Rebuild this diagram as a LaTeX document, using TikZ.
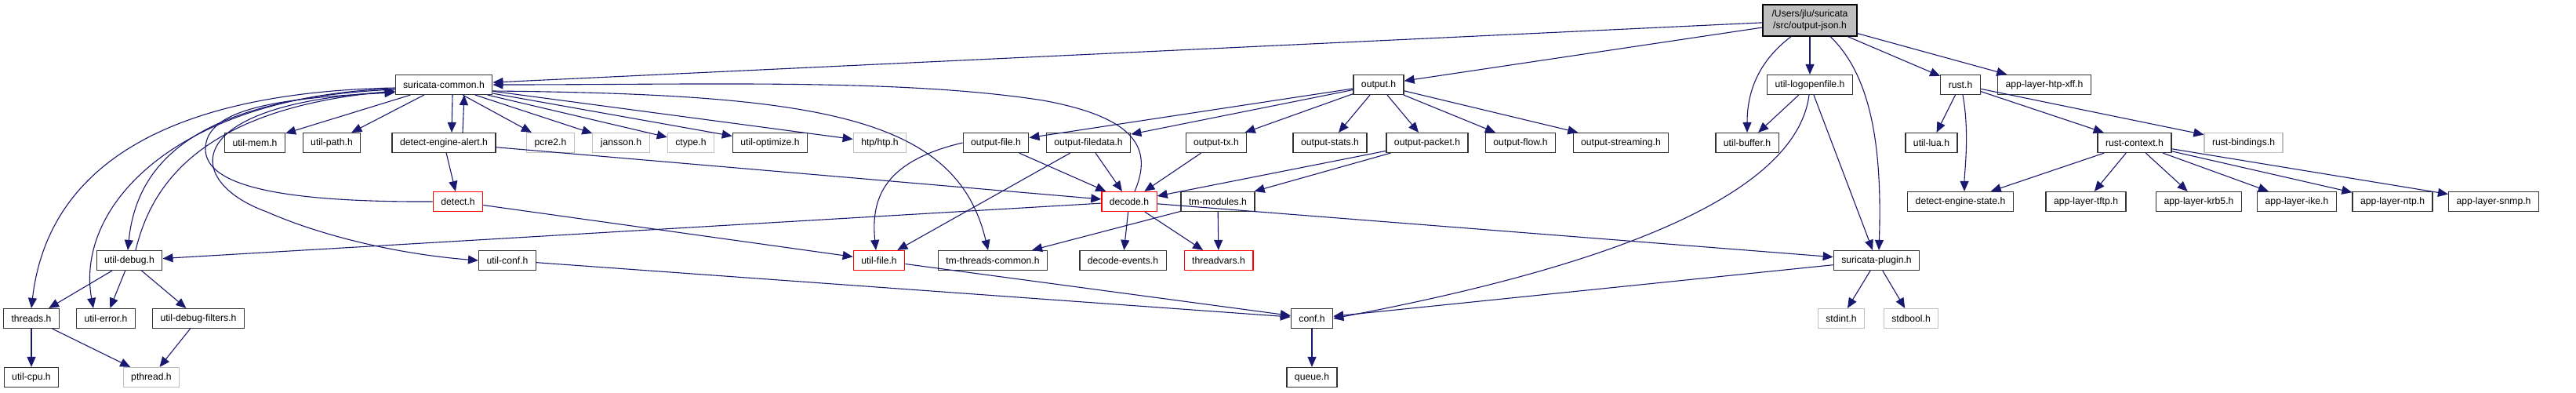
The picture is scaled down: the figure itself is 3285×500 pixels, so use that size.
\documentclass[tikz,border=0pt]{standalone}
\usepackage{fontspec}
\setmainfont{Liberation Sans}
\usetikzlibrary{arrows.meta}
\definecolor{edgeblue}{HTML}{191970}
\definecolor{sysgray}{HTML}{BFBFBF}
\definecolor{boxred}{HTML}{FF0000}

\begin{document}
\begin{tikzpicture}[x=0.5pt,y=-0.5pt,
		hdr/.style={draw=black!80,line width=0.6pt,fill=white,inner xsep=5pt,inner ysep=0pt,minimum height=12.5pt,font=\fontsize{6.1pt}{7.5pt}\selectfont},
		sys/.style={hdr,draw=sysgray},
		trunc/.style={hdr,draw=boxred},
		rootbox/.style={hdr,fill=sysgray,draw=black,minimum height=20pt,minimum width=60pt,align=center},
		dep/.style={-{Triangle[length=6.5pt,width=5.5pt]},draw=edgeblue,line width=0.55pt}]
				\useasboundingbox (0,0) rectangle (3285,500);
				
				% gyökér
				\node[rootbox] (root) at (2308,26) {/Users/jlu/suricata\\/src/output-json.h};
				
				% első sor
				\node[hdr] (sc) at (566,108) {suricata-common.h};
				\node[hdr] (outp) at (1758,108) {output.h};
				\node[hdr] (logopen) at (2308,108) {util-logopenfile.h};
				\node[hdr] (rust) at (2500,108) {rust.h};
				\node[hdr] (htpxff) at (2607,108) {app-layer-htp-xff.h};
				
				% második sor
				\node[hdr] (mem) at (325,182) {util-mem.h};
				\node[hdr] (path) at (423,182) {util-path.h};
				\node[hdr] (alert) at (566,182) {detect-engine-alert.h};
				\node[sys] (pcre) at (702,182) {pcre2.h};
				\node[sys] (jansson) at (792,182) {jansson.h};
				\node[sys] (ctype) at (881,182) {ctype.h};
				\node[hdr] (optim) at (982,182) {util-optimize.h};
				\node[sys] (htp) at (1122,182) {htp/htp.h};
				\node[hdr] (ofile) at (1270,182) {output-file.h};
				\node[hdr] (ofiledata) at (1388,182) {output-filedata.h};
				\node[hdr] (otx) at (1551,182) {output-tx.h};
				\node[hdr] (ostats) at (1696,182) {output-stats.h};
				\node[hdr] (opacket) at (1820,182) {output-packet.h};
				\node[hdr] (oflow) at (1939,182) {output-flow.h};
				\node[hdr] (ostream) at (2067,182) {output-streaming.h};
				\node[hdr] (buffer) at (2228,182) {util-buffer.h};
				\node[hdr] (lua) at (2463,182) {util-lua.h};
				\node[hdr] (rctx) at (2722,182) {rust-context.h};
				\node[sys] (rbind) at (2861,182) {rust-bindings.h};
				
				% harmadik sor
				\node[trunc] (detect) at (584,257) {detect.h};
				\node[trunc] (decode) at (1440,257) {decode.h};
				\node[hdr] (tmmod) at (1553,257) {tm-modules.h};
				\node[hdr] (destate) at (2500,257) {detect-engine-state.h};
				\node[hdr] (tftp) at (2660,257) {app-layer-tftp.h};
				\node[hdr] (krb5) at (2804,257) {app-layer-krb5.h};
				\node[hdr] (ike) at (2929,257) {app-layer-ike.h};
				\node[hdr] (ntp) at (3051,257) {app-layer-ntp.h};
				\node[hdr] (snmp) at (3180,257) {app-layer-snmp.h};
				
				% negyedik sor
				\node[hdr] (debug) at (165,332) {util-debug.h};
				\node[hdr] (uconf) at (647,332) {util-conf.h};
				\node[trunc] (ufile) at (1121,332) {util-file.h};
				\node[hdr] (tmthr) at (1266,332) {tm-threads-common.h};
				\node[hdr] (devents) at (1432,332) {decode-events.h};
				\node[trunc] (tvars) at (1554,332) {threadvars.h};
				\node[hdr] (plugin) at (2393,332) {suricata-plugin.h};
				
				% ötödik sor
				\node[hdr] (threads) at (40,406) {threads.h};
				\node[hdr] (uerr) at (135,406) {util-error.h};
				\node[hdr] (dfilt) at (253,406) {util-debug-filters.h};
				\node[hdr] (conf) at (1673,406) {conf.h};
				\node[sys] (stdint) at (2348,406) {stdint.h};
				\node[sys] (stdbool) at (2437,406) {stdbool.h};
				
				% hatodik sor
				\node[hdr] (cpu) at (40,481) {util-cpu.h};
				\node[sys] (pthread) at (193,481) {pthread.h};
				\node[hdr] (queue) at (1673,481) {queue.h};
				
				% élek a gyökérből
				\draw[dep] (root) -- (sc);
				\draw[dep] (root) -- (outp);
				\draw[dep] (root) -- (logopen);
				\draw[dep] (root) -- (rust);
				\draw[dep] (root) -- (htpxff);
				\draw[dep] ([xshift=-12pt]root.south) .. controls (2240,80) and (2228,120) .. (buffer.north);
				\draw[dep] ([xshift=13pt]root.south) .. controls (2390,100) and (2400,200) .. ([xshift=1.5pt]plugin.north);
				
				% suricata-common.h
				\draw[dep] (sc) -- (mem);
				\draw[dep] (sc) -- (path);
				\draw[dep] (sc) -- (pcre);
				\draw[dep] (sc) -- (jansson);
				\draw[dep] (sc) -- (ctype);
				\draw[dep] (sc) -- (optim);
				\draw[dep] (sc) -- (htp);
				\draw[dep] ([xshift=5.5pt]sc.south) -- ([xshift=5pt]alert.north);
				\draw[dep] ([xshift=12pt]alert.north) -- ([xshift=13pt]sc.south);
				\draw[dep] ([yshift=-2pt]sc.west) .. controls (200,118) and (60,220) .. (threads.north);
				\draw[dep] ([yshift=-2.5pt]sc.west) .. controls (230,122) and (95,260) .. ([xshift=-8pt]uerr.north);
				\draw[dep] ([yshift=-3pt]sc.west) .. controls (260,125) and (175,200) .. ([xshift=-1pt]debug.north);
				\draw[dep] ([xshift=4pt]debug.north) .. controls (190,250) and (240,140) .. ([yshift=-4pt]sc.west);
				\draw[dep] ([yshift=-4.5pt]sc.west) .. controls (230,130) and (230,230) .. (340,270) .. controls (420,305) and (520,325) .. (uconf.west);
				\draw[dep] (detect.west) .. controls (350,258) and (262,235) .. (262,190) .. controls (262,140) and (350,125) .. ([yshift=-5pt]sc.west);
				\draw[dep] ([yshift=-4pt]sc.east) .. controls (1050,120) and (1220,150) .. ([xshift=-3pt]tmthr.north);
				
				% detect-engine-alert.h, detect.h
				\draw[dep] (alert) -- (detect);
				\draw[dep] (alert) -- (decode);
				\draw[dep] (detect) -- (ufile);
				
				% output.h
				\draw[dep] (outp) -- (ofile);
				\draw[dep] (outp) -- (ofiledata);
				\draw[dep] (outp) -- (otx);
				\draw[dep] (outp) -- (ostats);
				\draw[dep] (outp) -- (opacket);
				\draw[dep] (outp) -- (oflow);
				\draw[dep] (outp) -- (ostream);
				\draw[dep] (ofile) -- (decode);
				\draw[dep] (ofile.west) .. controls (1130,205) and (1110,250) .. ([xshift=-2pt]ufile.north);
				\draw[dep] (ofiledata) -- (decode);
				\draw[dep] (ofiledata) -- (ufile);
				\draw[dep] (otx) -- (decode);
				\draw[dep] (opacket) -- (decode);
				\draw[dep] (opacket) -- (tmmod);
				
				% decode.h
				\draw[dep] ([xshift=3.5pt]decode.north) .. controls (1470,190) and (1450,150) .. (1330,128) .. controls (1150,100) and (900,108) .. (sc.east);
				\draw[dep] (decode) -- (debug);
				\draw[dep] (decode) -- (devents);
				\draw[dep] (decode) -- (tvars);
				\draw[dep] (decode) -- (plugin);
				\draw[dep] (tmmod) -- (tmthr);
				\draw[dep] (tmmod) -- (tvars);
				
				% util-debug.h, threads.h
				\draw[dep] (debug) -- (threads);
				\draw[dep] (debug) -- (uerr);
				\draw[dep] (debug) -- (dfilt);
				\draw[dep] (threads) -- (cpu);
				\draw[dep] (threads) -- (pthread);
				\draw[dep] (dfilt) -- (pthread);
				
				% conf.h
				\draw[dep] (uconf) -- (conf);
				\draw[dep] (ufile) -- (conf);
				\draw[dep] (plugin) -- (conf);
				\draw[dep] (conf) -- (queue);
				
				% util-logopenfile.h, suricata-plugin.h
				\draw[dep] (logopen) -- (buffer);
				\draw[dep] (logopen) -- (plugin);
				\draw[dep] ([xshift=-0.5pt]logopen.south) .. controls (2290,250) and (2050,340) .. (conf.east);
				\draw[dep] (plugin) -- (stdint);
				\draw[dep] (plugin) -- (stdbool);
				
				% rust.h
				\draw[dep] (rust) -- (lua);
				\draw[dep] (rust) -- (rctx);
				\draw[dep] (rust) -- (rbind);
				\draw[dep] ([xshift=1.5pt]rust.south) .. controls (2512,170) and (2505,220) .. ([xshift=2.5pt]destate.north);
				\draw[dep] (rctx) -- (destate);
				\draw[dep] (rctx) -- (tftp);
				\draw[dep] (rctx) -- (krb5);
				\draw[dep] (rctx) -- (ike);
				\draw[dep] (rctx) -- (ntp);
				\draw[dep] (rctx) -- (snmp);
				
			\end{tikzpicture}
\end{document}
